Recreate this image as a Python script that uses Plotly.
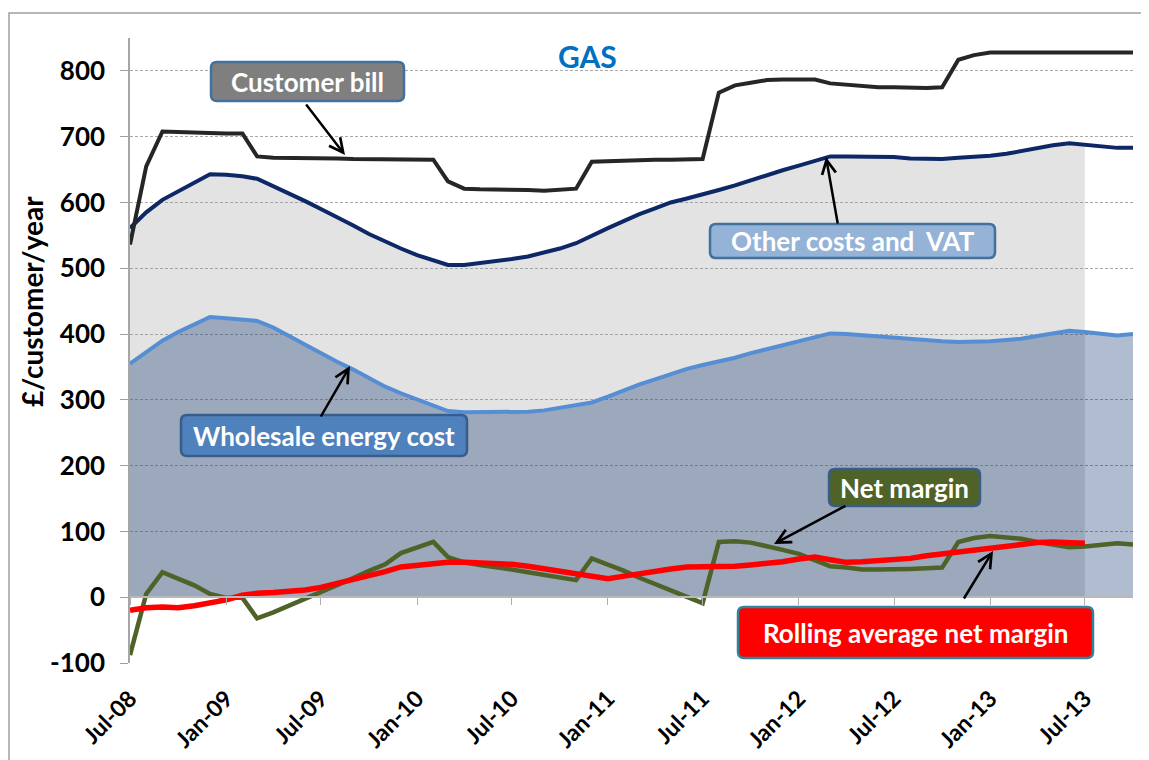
import plotly.graph_objects as go
import pandas as pd

# ---------------- data ----------------
months = pd.date_range("2008-07-01", "2013-10-01", freq="MS")  # Jul-08 .. Oct-13

customer_bill = [536, 655, 708, 707, 706, 706, 705, 705, 670, 668,
                 668, 667, 667, 667, 666, 666, 666, 665, 665, 665,
                 632, 621, 620, 620, 619, 619, 618, 619, 621, 662,
                 663, 664, 665, 665, 665, 666, 666, 767, 778, 782,
                 786, 787, 787, 787, 781, 779, 777, 775, 775, 774,
                 774, 775, 817, 824, 828, 828, 828, 828, 828, 828,
                 828, 828, 828, 828]

other_costs_vat = [561, 585, 604, 617, 630, 643, 642, 640, 636, 625,
                   613, 602, 590, 578, 565, 552, 540, 530, 520, 512,
                   505, 505, 508, 510, 514, 518, 524, 530, 538, 550,
                   561, 572, 582, 591, 600, 606, 612, 619, 626, 634,
                   642, 649, 656, 664, 670, 670, 670, 670, 669, 667,
                   666, 666, 668, 669, 671, 674, 678, 683, 687, 690,
                   688, 686, 683, 683]

wholesale_cost = [355, 373, 390, 403, 415, 426, 424, 422, 420, 410,
                  397, 384, 371, 358, 346, 333, 320, 310, 301, 291,
                  283, 281, 281, 281, 282, 282, 284, 288, 292, 296,
                  305, 315, 323, 331, 339, 347, 353, 358, 364, 371,
                  377, 384, 390, 396, 401, 400, 398, 397, 395, 393,
                  391, 389, 388, 388, 389, 391, 393, 397, 401, 405,
                  403, 401, 398, 400]

net_margin = [-88, 5, 38, 28, 18, 5, -1, -1, -32, -23,
              -13, -3, 8, 18, 29, 40, 50, 67, 76, 84,
              61, 53, 49, 46, 42, 38, 34, 30, 26, 59,
              50, 40, 30, 20, 10, 1, -9, 84, 85, 83,
              78, 72, 66, 57, 47, 45, 42, 42, 42, 43,
              44, 45, 84, 90, 93, 91, 89, 84, 80, 76,
              77, 79, 82, 80]

rolling_avg_margin = [-20, -16, -15, -16, -13, -9, -4, 3, 6, 7,
                      8, 11, 15, 21, 26, 32, 39, 46, 49, 51,
                      53, 53, 52, 52, 50, 47, 43, 39, 35, 30,
                      28, 32, 36, 40, 43, 46, 46, 46, 47, 49,
                      51, 54, 58, 61, 57, 53, 54, 55, 57, 59,
                      63, 66, 69, 72, 75, 78, 81, 83, 84, 83,
                      82]

y_ticks = [-100, 0, 100, 200, 300, 400, 500, 600, 700, 800]
y_tick_labels = ["-100", "0", "100", "200", "300", "400", "500", "600", "700", "800"]
y_range = [-100, 850]
chart_title = "GAS"
y_title = "£/customer/year"

# ---------------- layout geometry (pixels) ----------------
OFF = 8                      # default page margin around the figure
W, H = 1149 - OFF, 760 - OFF
ML, MT = 130 - OFF, 38 - OFF
MR = W - (1133 - OFF)
MB = H - (663 - OFF)
PW, PH = W - ML - MR, H - MT - MB


def px(x):
    """page x pixel -> paper fraction"""
    return (x - OFF - ML) / PW


def py(y):
    """page y pixel -> paper fraction"""
    return (H - MB - (y - OFF)) / PH


FONT = "Lato, 'Open Sans', sans-serif"

fig = go.Figure()

# area fills
n_avg = len(rolling_avg_margin)
fig.add_trace(go.Scatter(x=months[:n_avg], y=other_costs_vat[:n_avg],
                         mode="none", fill="tozeroy",
                         fillcolor="rgba(150,150,150,0.27)", hoverinfo="skip"))
fig.add_trace(go.Scatter(x=months, y=wholesale_cost, mode="none", fill="tozeroy",
                         fillcolor="rgba(0,40,100,0.31)", hoverinfo="skip"))

# lines
fig.add_trace(go.Scatter(x=months, y=other_costs_vat, mode="lines",
                         line=dict(color="#0E2766", width=4), name="Other costs and VAT"))
fig.add_trace(go.Scatter(x=months, y=customer_bill, mode="lines",
                         line=dict(color="#262626", width=4), name="Customer bill"))
fig.add_trace(go.Scatter(x=months, y=wholesale_cost, mode="lines",
                         line=dict(color="#558ED5", width=4), name="Wholesale energy cost"))
fig.add_trace(go.Scatter(x=months, y=net_margin, mode="lines",
                         line=dict(color="#4F6228", width=4.5), name="Net margin"))
fig.add_trace(go.Scatter(x=months[:n_avg], y=rolling_avg_margin, mode="lines",
                         line=dict(color="#FF0000", width=5.5), name="Rolling average net margin"))
# helper trace for the zero-line axis
fig.add_trace(go.Scatter(x=[months[0]], y=[None], xaxis="x2", mode="lines",
                         hoverinfo="skip", showlegend=False))

x_range = [months[0], months[-1]]

fig.update_layout(
    width=W, height=H,
    margin=dict(l=ML, r=MR, t=MT, b=MB, autoexpand=False),
    paper_bgcolor="white", plot_bgcolor="white",
    showlegend=False,
    font=dict(family=FONT, color="black"),
    xaxis=dict(
        type="date", range=x_range, automargin=False,
        tick0="2008-07-01", dtick="M6", tickformat="%b-%y",
        tickangle=-45, tickfont=dict(size=23, family=FONT, weight="bold"),
        ticks="outside", ticklen=12, tickcolor="rgba(0,0,0,0)",
        showgrid=False, showline=False, zeroline=False,
    ),
    xaxis2=dict(
        type="date", matches="x", overlaying="x", anchor="free", automargin=False,
        position=(0 - y_range[0]) / (y_range[1] - y_range[0]),
        tick0="2008-07-01", dtick="M6",
        showticklabels=False, ticks="outside", ticklen=7, tickcolor="#B0B0B0",
        showline=True, linecolor="#B8B8B8", linewidth=1.5,
        showgrid=False, zeroline=False,
    ),
    yaxis=dict(
        range=y_range, tickvals=y_ticks, ticktext=y_tick_labels, automargin=False,
        tickfont=dict(size=26, family=FONT, weight="bold"),
        ticks="outside", ticklen=8, tickcolor="#A0A0A0", ticklabelstandoff=10,
        showline=True, linecolor="#A6A6A6", linewidth=1.5,
        showgrid=True, gridcolor="#A8A8A8", gridwidth=1, griddash="3px,2px",
        zeroline=False,
    ),
)

# y-axis title
fig.add_annotation(text=y_title, xref="paper", yref="paper", x=px(32), y=py(302),
                   xanchor="center", yanchor="middle", textangle=-90, showarrow=False,
                   font=dict(size=28, family=FONT, weight="bold", color="black"))

# chart title
fig.add_annotation(text=chart_title, xref="paper", yref="paper", x=px(587), y=py(56),
                   xanchor="center", yanchor="middle", showarrow=False,
                   font=dict(size=30, color="#0070C0", family=FONT, weight="bold"))

# outer frame
fig.add_shape(type="path", xref="paper", yref="paper",
              path=f"M {px(9)},{py(770)} L {px(9)},{py(13)} L {px(1160)},{py(13)}",
              line=dict(color="#A0A0A0", width=1.5))


def rounded_box(x0, y0, x1, y1, r=6):
    X0, X1 = px(x0), px(x1)
    Y0, Y1 = py(y0), py(y1)  # Y0 top, Y1 bottom
    rx, ry = r / PW, r / PH
    return (f"M {X0+rx},{Y0} L {X1-rx},{Y0} Q {X1},{Y0} {X1},{Y0-ry} "
            f"L {X1},{Y1+ry} Q {X1},{Y1} {X1-rx},{Y1} L {X0+rx},{Y1} "
            f"Q {X0},{Y1} {X0},{Y1+ry} L {X0},{Y0-ry} Q {X0},{Y0} {X0+rx},{Y0} Z")


labels = [
    # text, box (x0,y0,x1,y1), fill, border, arrow head (x,y), arrow tail (x,y)
    ("Customer bill", (211, 62, 404, 101), "#7F7F7F", "#41719C", (345, 155), (305, 103)),
    ("Other costs and  VAT", (710, 224, 995, 258), "#95B3D7", "#41719C", (826, 157), (838, 225)),
    ("Wholesale energy cost", (181, 415, 467, 456), "#4F81BD", "#385D8A", (350, 366), (320, 418)),
    ("Net margin", (829, 469, 980, 506), "#4F6228", "#385D8A", (774, 544), (847, 505)),
    ("Rolling average net margin", (738, 607, 1093, 658), "#FF0000", "#31849B", (993, 551), (963, 600)),
]

for text, (x0, y0, x1, y1), fill, border, (hx, hy), (tx, ty) in labels:
    fig.add_annotation(xref="paper", yref="paper", x=px(hx), y=py(hy), text="",
                       showarrow=True, axref="pixel", ayref="pixel",
                       ax=tx - hx, ay=ty - hy, arrowhead=5, arrowsize=1.1,
                       arrowwidth=2.5, arrowcolor="black", standoff=0, startstandoff=0)
    fig.add_shape(type="path", xref="paper", yref="paper", path=rounded_box(x0, y0, x1, y1),
                  fillcolor=fill, line=dict(color=border, width=2.5), layer="above")
    fig.add_annotation(xref="paper", yref="paper", x=px((x0 + x1) / 2), y=py((y0 + y1) / 2),
                       xanchor="center", yanchor="middle",
                       text=text, showarrow=False,
                       font=dict(size=26, color="white", family=FONT, weight="bold"))

fig.write_html("out.html")
